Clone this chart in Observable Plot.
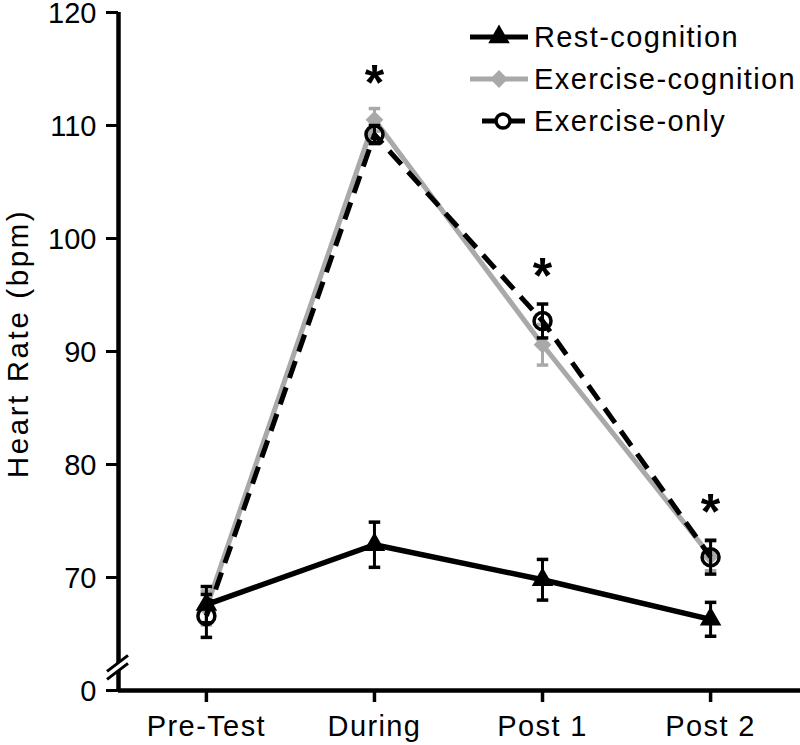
<!DOCTYPE html>
<html><head><meta charset="utf-8">
<script src="https://cdn.jsdelivr.net/npm/d3@7"></script>
<script src="https://cdn.jsdelivr.net/npm/@observablehq/plot@0.6"></script>
<style>
body{margin:0;background:#fff}
#chart{width:800px;height:745px}
g[aria-label="x-axis tick label"] text{letter-spacing:1.4px}
</style>
</head><body><div id="chart"></div>
<script>
// ---- data ----
const categories = ["Pre-Test", "During", "Post 1", "Post 2"];
const seriesNames = ["Rest-cognition", "Exercise-cognition", "Exercise-only"];
const restMean   = [67.6, 72.9, 69.8, 66.3];
const restErr    = [1.6, 2.0, 1.8, 1.5];
const exCogMean  = [67.3, 110.5, 90.6, 71.9];
const exCogErr   = [1.5, 1.0, 1.8, 1.3];
const exOnlyMean = [66.6, 109.2, 92.7, 71.8];
const exOnlyErr  = [1.9, 0.8, 1.5, 1.5];
const sigY       = [null, 114.4, 97.3, 76.4];   // asterisk heights (bpm)
const yTicks     = [60, 70, 80, 90, 100, 110, 120];
const yTickLabels = ["0", "70", "80", "90", "100", "110", "120"];
const yTitle = "Heart Rate (bpm)";

const FONT = '"Liberation Sans", Arial, Helvetica, sans-serif';
const GREY = "#a9a9a9";
const FS = 29;

const rows = (mean, err) => mean.map((m, i) => ({i, m, lo: m - err[i], hi: m + err[i]}));
const rest = rows(restMean, restErr);
const exCog = rows(exCogMean, exCogErr);
const exOnly = rows(exOnlyMean, exOnlyErr);
const sig = sigY.map((y, i) => ({i, y})).filter(d => d.y != null);

const capSymbol = {draw(ctx, size) { const w = Math.sqrt(size); ctx.moveTo(-w / 2, 0); ctx.lineTo(w / 2, 0); }};
const xDomain = [-0.523, 3.535];

function errMarks(data, color) {
  return [
    Plot.ruleX(data, {x: "i", y1: "lo", y2: "hi", stroke: color, strokeWidth: 3}),
    Plot.dot(data, {x: "i", y: "lo", symbol: capSymbol, r: 6.5, stroke: color, strokeWidth: 3.5, fill: "none"}),
    Plot.dot(data, {x: "i", y: "hi", symbol: capSymbol, r: 6.5, stroke: color, strokeWidth: 3.5, fill: "none"})
  ];
}

const chart = Plot.plot({
  width: 800, height: 745,
  marginLeft: 118, marginRight: 0, marginTop: 12, marginBottom: 55,
  style: {fontFamily: FONT, fontSize: FS + "px", color: "#000", background: "#fff"},
  x: {type: "linear", domain: xDomain},
  y: {domain: [60, 120]},
  marks: [
    // axes
    Plot.axisY({ticks: yTicks, tickFormat: d => yTickLabels[yTicks.indexOf(d)], tickSize: 12, tickPadding: 10,
      strokeWidth: 3, fontSize: FS, label: null}),
    Plot.axisX({ticks: [0, 1, 2, 3], tickFormat: i => categories[i], tickSize: 12, tickPadding: 13,
      strokeWidth: 3.5, fontSize: FS, label: null}),
    Plot.text([yTitle], {text: d => d, frameAnchor: "left", rotate: -90, lineAnchor: "top", textAnchor: "middle",
      dx: -111, dy: -8, fontSize: 29.5, fill: "#000"}),
    Plot.ruleX([xDomain[0]], {y1: 60, y2: 120, strokeWidth: 4.5}),
    Plot.ruleY([60], {strokeWidth: 4.5}),
    // Exercise-cognition (grey)
    Plot.line(exCog, {x: "i", y: "m", stroke: GREY, strokeWidth: 5}),
    ...errMarks(exCog, GREY),
    Plot.dot(exCog, {x: "i", y: "m", symbol: "diamond2", r: 8, fill: GREY, stroke: "none"}),
    // Exercise-only (dashed black, open circles)
    Plot.line(exOnly, {x: "i", y: "m", stroke: "#000", strokeWidth: 5, strokeDasharray: "18,10", strokeLinecap: "butt"}),
    ...errMarks(exOnly, "#000"),
    Plot.dot(exOnly, {x: "i", y: "m", r: 8.5, fill: "none", stroke: "#000", strokeWidth: 3.5}),
    // Rest-cognition (black triangles)
    Plot.line(rest, {x: "i", y: "m", stroke: "#000", strokeWidth: 5.5}),
    ...errMarks(rest, "#000"),
    Plot.dot(rest, {x: "i", y: "m", symbol: "triangle", r: 8, fill: "#000", stroke: "none"}),
    // significance
    Plot.text(sig, {x: "i", y: "y", text: () => "*", fontSize: 50, fontWeight: "bold", dy: 8, fill: "#000"})
  ]
});
const root = d3.select(chart);
root.selectAll("text").filter(function() { return this.textContent === yTitle; }).style("letter-spacing", "2.6px");
root.selectAll('g[aria-label="y-axis tick label"]').each(function() {
  const t = this.getAttribute("transform") || "";
  this.setAttribute("transform", (t + " translate(0,1.5)").trim());
});
document.getElementById("chart").append(chart);

// ---- overlay: axis break + legend ----
const svg = root;
const sx = chart.scale("x"), sy = chart.scale("y");
const ax = sx.apply(xDomain[0]), by = sy.apply(62.0);
const br = svg.append("g");
br.append("polygon").attr("points", `${ax-11},${by+12} ${ax+10},${by-4} ${ax+10},${by-12} ${ax-11},${by+4}`).attr("fill", "#fff");
[4, -4].forEach(o => br.append("line").attr("x1", ax - 11).attr("y1", by + 8 + o).attr("x2", ax + 10).attr("y2", by - 8 + o)
  .attr("stroke", "#000").attr("stroke-width", 3));

const lg = svg.append("g").attr("font-family", FONT).attr("font-size", FS).attr("text-anchor", "start");
const legendRows = [
  {name: seriesNames[0], y: 37, color: "#000", x1: 470, x2: 528, cx: 499, sym: d3.symbolTriangle, size: Math.PI * 64, fill: "#000", stroke: "none"},
  {name: seriesNames[1], y: 79, color: GREY, x1: 470, x2: 528, cx: 499, sym: d3.symbolDiamond2, size: Math.PI * 64, fill: GREY, stroke: "none"},
  {name: seriesNames[2], y: 121, color: "#000", x1: 482, x2: 525, cx: 503, sym: d3.symbolCircle, size: Math.PI * 49, fill: "#fff", stroke: "#000"}
];
legendRows.forEach(r => {
  lg.append("line").attr("x1", r.x1).attr("x2", r.x2).attr("y1", r.y).attr("y2", r.y).attr("stroke", r.color).attr("stroke-width", 5);
  lg.append("path").attr("d", d3.symbol(r.sym, r.size)()).attr("transform", `translate(${r.cx},${r.y})`)
    .attr("fill", r.fill).attr("stroke", r.stroke).attr("stroke-width", 3.5);
  lg.append("text").attr("x", 534).attr("y", r.y).attr("dy", "0.33em").attr("fill", "#000")
    .style("letter-spacing", "1.4px").text(r.name);
});
</script></body></html>
